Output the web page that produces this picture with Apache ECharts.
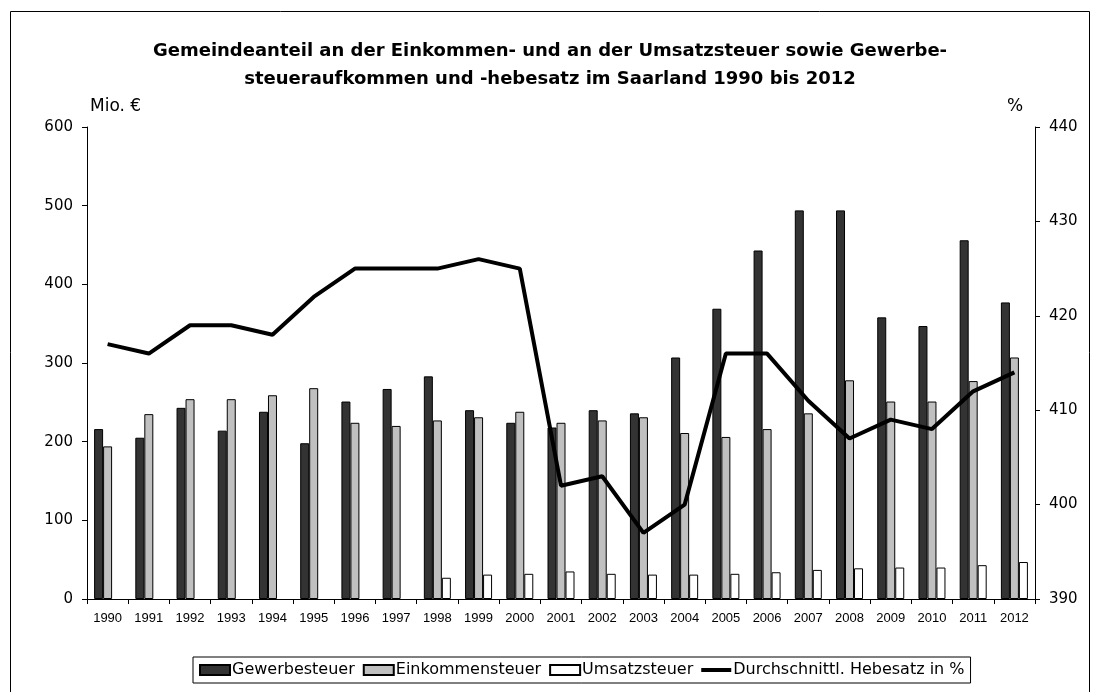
<!DOCTYPE html>
<html lang="de">
<head>
    <meta charset="UTF-8">
    <title>Gewerbesteuer Saarland</title>
    <script src="https://cdn.jsdelivr.net/npm/echarts@6/dist/echarts.min.js"></script>
    <style>
        html, body { margin: 0; padding: 0; background: #fff; }
        #main { width: 1100px; height: 692px; }
    </style>
</head>
<body>
<div id="main"></div>
<script>
    var years = ['1990','1991','1992','1993','1994','1995','1996','1997','1998','1999','2000','2001',
        '2002','2003','2004','2005','2006','2007','2008','2009','2010','2011','2012'];
    var gewerbe = [216, 205, 243, 214, 238, 198, 251, 267, 283, 240, 224, 218,
        240, 236, 307, 369, 443, 494, 494, 358, 347, 456, 377];
    var einkommen = [194, 235, 254, 254, 259, 268, 224, 220, 227, 231, 238, 224,
        227, 231, 211, 206, 216, 236, 278, 251, 251, 277, 307];
    var umsatz = [null, null, null, null, null, null, null, null, 27, 31, 32, 35,
        32, 31, 31, 32, 34, 37, 39, 40, 40, 43, 47];
    var hebesatz = [417, 416, 419, 419, 418, 422, 425, 425, 425, 426, 425, 402,
        403, 397, 400, 416, 416, 411, 407, 409, 408, 412, 414];

    // die Vorlage ist in die Breite gezogen, daher breitere Schrift
    var wide = 'DejaVu Sans, Verdana, sans-serif';
    var arial = 'Liberation Sans, Arial, sans-serif';
    var lineIcon = 'path://M0,3 L30,3 L30,7 L0,7 Z M0,0 L0,0 Z M30,10 L30,10 Z';

    var chart = echarts.init(document.getElementById('main'));
    var option = {
        backgroundColor: '#fff',
        animation: false,
        title: {
            text: 'Gemeindeanteil an der Einkommen- und an der Umsatzsteuer sowie Gewerbe-\nsteueraufkommen und -hebesatz im Saarland 1990 bis 2012',
            left: 'center',
            top: 32,
            textStyle: { fontFamily: wide, fontSize: 18, fontWeight: 'bold', color: '#000', lineHeight: 28 }
        },
        graphic: [
            { type: 'rect', shape: { x: 10.5, y: 11.5, width: 1079, height: 700 },
              style: { fill: null, stroke: '#000', lineWidth: 1 }, silent: true },
            { type: 'text', left: 90, top: 98, style: { text: 'Mio. €', fontFamily: wide, fontSize: 17, fill: '#000' } },
            { type: 'text', left: 1007, top: 98, style: { text: '%', fontFamily: wide, fontSize: 17, fill: '#000' } }
        ],
        legend: {
            left: 193,
            top: 657,
            padding: [5, 6],
            itemGap: 8,
            itemWidth: 30,
            itemHeight: 10,
            borderColor: '#000',
            borderWidth: 1,
            borderRadius: 0,
            textStyle: { fontFamily: wide, fontSize: 16, color: '#000', padding: [0, 0, 0, -3] },
            data: [
                { name: 'Gewerbesteuer', icon: 'rect' },
                { name: 'Einkommensteuer', icon: 'rect' },
                { name: 'Umsatzsteuer', icon: 'rect' },
                { name: 'Durchschnittl. Hebesatz in %', icon: lineIcon, itemStyle: { color: '#000', borderWidth: 0 } }
            ]
        },
        grid: { left: 87, right: 65, top: 127, bottom: 93 },
        xAxis: {
            type: 'category',
            data: years,
            boundaryGap: true,
            axisLine: { lineStyle: { color: '#000', width: 1 } },
            axisTick: { show: true, length: 5, lineStyle: { color: '#000' } },
            axisLabel: { fontFamily: arial, fontSize: 13, color: '#000', margin: 13 }
        },
        yAxis: [{
            type: 'value',
            min: 0, max: 600, interval: 100,
            splitLine: { show: false },
            axisLine: { show: true, lineStyle: { color: '#000' } },
            axisTick: { show: true, length: 5, lineStyle: { color: '#000' } },
            axisLabel: { fontFamily: wide, fontSize: 15, color: '#000', margin: 14 }
        }, {
            type: 'value',
            min: 390, max: 440, interval: 10,
            position: 'right',
            splitLine: { show: false },
            axisLine: { show: true, lineStyle: { color: '#000' } },
            axisTick: { show: true, length: 5, lineStyle: { color: '#000' } },
            axisLabel: { fontFamily: wide, fontSize: 15, color: '#000', margin: 14 }
        }],
        series: [{
            name: 'Gewerbesteuer', type: 'bar', data: gewerbe,
            barWidth: 9, barGap: '0%',
            itemStyle: { color: '#333333', borderColor: '#000', borderWidth: 1 }
        }, {
            name: 'Einkommensteuer', type: 'bar', data: einkommen,
            barWidth: 9, barGap: '0%',
            itemStyle: { color: '#c0c0c0', borderColor: '#000', borderWidth: 1 }
        }, {
            name: 'Umsatzsteuer', type: 'bar', data: umsatz,
            barWidth: 9, barGap: '0%',
            itemStyle: { color: '#fff', borderColor: '#000', borderWidth: 1 }
        }, {
            name: 'Durchschnittl. Hebesatz in %', type: 'line', yAxisIndex: 1, data: hebesatz,
            symbol: 'none',
            lineStyle: { color: '#000', width: 4 },
            itemStyle: { color: '#000' }
        }]
    };
    chart.setOption(option);
</script>
</body>
</html>
